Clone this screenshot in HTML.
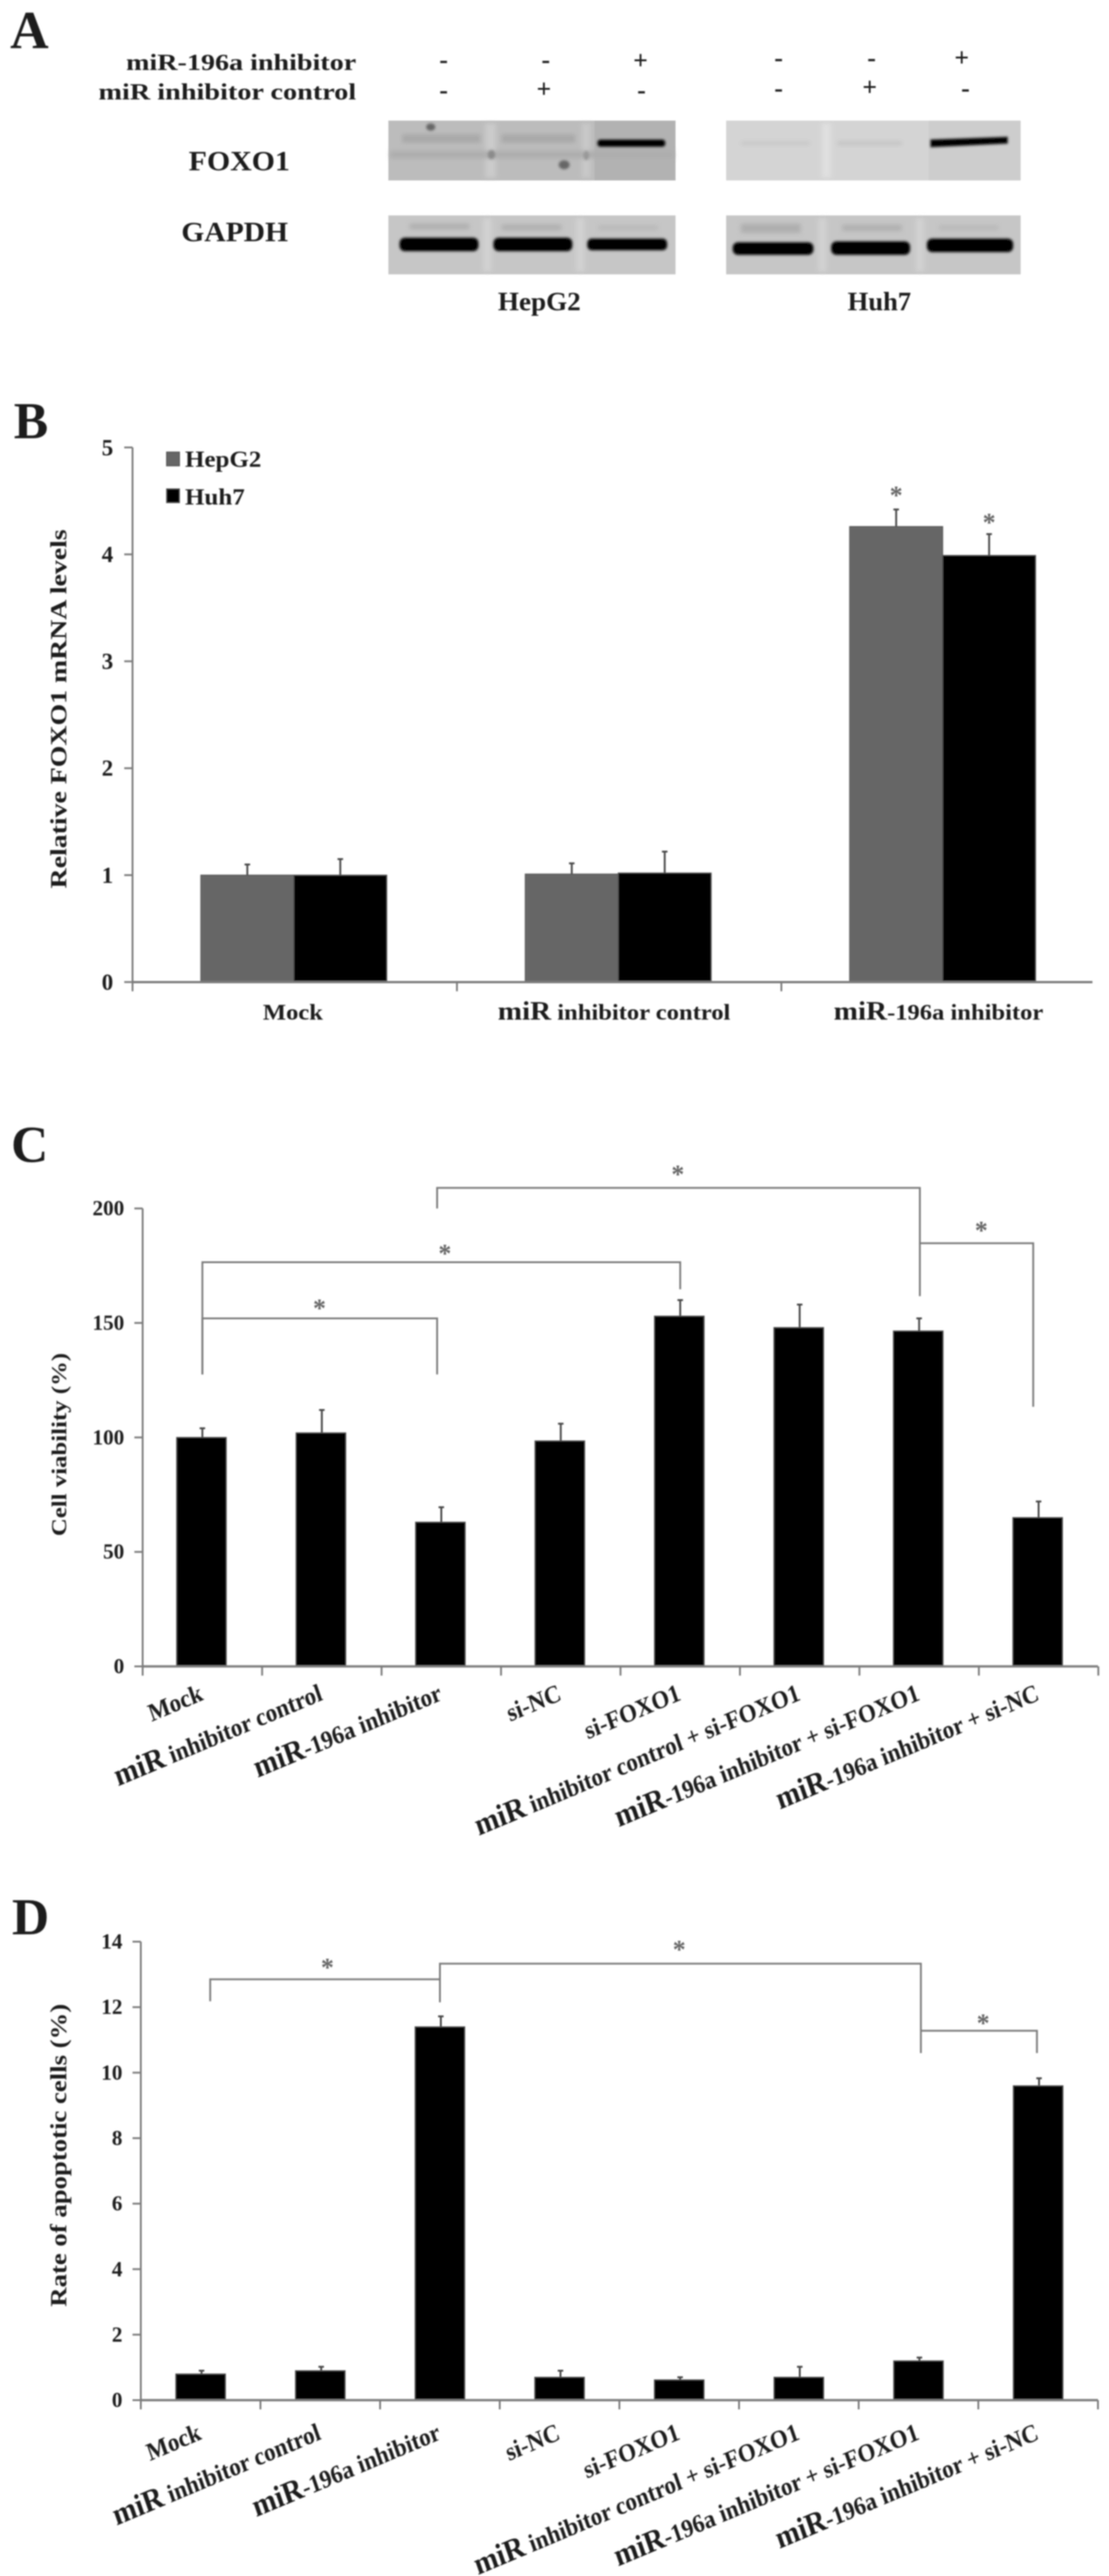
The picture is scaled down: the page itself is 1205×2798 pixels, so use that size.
<!DOCTYPE html>
<html lang="en">
<head>
<meta charset="utf-8">
<title>FOXO1 figure panels</title>
<style>
html,body{margin:0;padding:0;background:#fff;}
svg{display:block;}
text{font-family:"Liberation Serif",serif;font-weight:bold;fill:#1a1a1a;}
</style>
</head>
<body>
<svg id="figure" xmlns="http://www.w3.org/2000/svg" width="1205" height="2798" viewBox="0 0 1205 2798">
<defs>
<filter id="soft" x="-5%" y="-5%" width="110%" height="110%"><feGaussianBlur stdDeviation="0.7"/></filter>
<filter id="band" x="-20%" y="-150%" width="140%" height="400%"><feGaussianBlur stdDeviation="1.3"/></filter>
<filter id="faint" x="-30%" y="-400%" width="160%" height="900%"><feGaussianBlur stdDeviation="2.5"/></filter>
<filter id="lanegap" x="-100%" y="-10%" width="300%" height="120%"><feGaussianBlur stdDeviation="2.5"/></filter>
</defs>
<g id="panel-a" filter="url(#soft)">
<text x="11" y="52" font-size="58">A</text>
<text x="387" y="76" font-size="25" text-anchor="end" textLength="250" lengthAdjust="spacingAndGlyphs">miR-196a inhibitor</text>
<text x="387" y="108" font-size="25" text-anchor="end" textLength="280" lengthAdjust="spacingAndGlyphs">miR inhibitor control</text>
<g font-size="28" text-anchor="middle">
<text x="482" y="74">-</text>
<text x="593" y="74">-</text>
<text x="696" y="75">+</text>
<text x="846" y="72">-</text>
<text x="947" y="72">-</text>
<text x="1045" y="72">+</text>
<text x="482" y="107">-</text>
<text x="591" y="106">+</text>
<text x="697" y="107">-</text>
<text x="846" y="105">-</text>
<text x="945" y="104">+</text>
<text x="1049" y="105">-</text>
</g>
<text x="205" y="185" font-size="31" textLength="110" lengthAdjust="spacingAndGlyphs">FOXO1</text>
<text x="197" y="262" font-size="31" textLength="116" lengthAdjust="spacingAndGlyphs">GAPDH</text>
<text x="541" y="337" font-size="28" textLength="90" lengthAdjust="spacingAndGlyphs">HepG2</text>
<text x="921" y="337" font-size="28" textLength="69" lengthAdjust="spacingAndGlyphs">Huh7</text>

<g>
<rect x="422" y="131" width="312" height="65" fill="#bcbcbc"/>
<rect x="527" y="134" width="12" height="59" fill="#cbcbcb" filter="url(#lanegap)"/>
<rect x="632" y="134" width="10" height="59" fill="#c8c8c8" filter="url(#lanegap)"/>
<rect x="646" y="131" width="88" height="65" fill="#b2b2b2"/>
<rect x="437" y="146" width="85" height="9" fill="#a8a8a8" filter="url(#faint)"/>
<rect x="545" y="146" width="80" height="9" fill="#a8a8a8" filter="url(#faint)"/>
<rect x="424" y="164" width="308" height="8" fill="#adadad" filter="url(#faint)"/>
<ellipse cx="468" cy="138" rx="5" ry="4" fill="#666" filter="url(#band)"/>
<ellipse cx="534" cy="168" rx="4" ry="5" fill="#8a8a8a" filter="url(#band)"/>
<ellipse cx="613" cy="179" rx="6" ry="5" fill="#666" filter="url(#band)"/>
<ellipse cx="637" cy="169" rx="3" ry="5" fill="#979797" filter="url(#band)"/>
<rect x="649" y="151.5" width="74" height="8" rx="3.5" fill="#000" filter="url(#band)"/>
</g>
<g>
<rect x="789" y="131" width="320" height="65" fill="#d4d4d4"/>
<rect x="893" y="134" width="10" height="59" fill="#e0e0e0" filter="url(#lanegap)"/>
<rect x="1009" y="131" width="100" height="65" fill="#cdcdcd"/>
<rect x="805" y="154" width="75" height="3" fill="#c2c2c2" filter="url(#faint)"/>
<rect x="910" y="154" width="70" height="3" fill="#bcbcbc" filter="url(#faint)"/>
<path d="M1011 151.5 L1095 148.5 L1095 156 L1011 160 Z" fill="#000" filter="url(#band)"/>
</g>
<g>
<rect x="422" y="234" width="312" height="64" fill="#c6c6c6"/>
<rect x="525" y="237" width="9" height="58" fill="#d2d2d2" filter="url(#lanegap)"/>
<rect x="626" y="237" width="9" height="58" fill="#d2d2d2" filter="url(#lanegap)"/>
<rect x="445" y="243" width="65" height="6" fill="#aeaeae" filter="url(#faint)"/>
<rect x="545" y="244" width="65" height="6" fill="#aeaeae" filter="url(#faint)"/>
<rect x="650" y="245" width="65" height="5" fill="#b8b8b8" filter="url(#faint)"/>
<rect x="434" y="258" width="86" height="15" rx="6" fill="#000" filter="url(#band)"/>
<rect x="536" y="258" width="86" height="15" rx="6" fill="#000" filter="url(#band)"/>
<rect x="638" y="259" width="87" height="13" rx="5" fill="#000" filter="url(#band)"/>
</g>
<g>
<rect x="789" y="234" width="320" height="64" fill="#c6c6c6"/>
<rect x="889" y="237" width="9" height="58" fill="#d2d2d2" filter="url(#lanegap)"/>
<rect x="995" y="237" width="9" height="58" fill="#d2d2d2" filter="url(#lanegap)"/>
<rect x="805" y="243" width="65" height="10" fill="#aeaeae" filter="url(#faint)"/>
<rect x="915" y="244" width="65" height="7" fill="#b0b0b0" filter="url(#faint)"/>
<rect x="1020" y="245" width="65" height="5" fill="#b8b8b8" filter="url(#faint)"/>
<rect x="796" y="263" width="88" height="14" rx="6" fill="#000" filter="url(#band)"/>
<rect x="903" y="262" width="86" height="15" rx="6" fill="#000" filter="url(#band)"/>
<rect x="1007" y="259" width="94" height="15" rx="6" fill="#000" filter="url(#band)"/>
</g>
</g>
</svg>
<script>
// Panel B data
const bCategories = ['Mock', 'miR inhibitor control', 'miR-196a inhibitor'];
const bHepG2 = [1, 1.01, 4.26];
const bHuh7 = [1, 1.02, 3.99];
const bHepG2ErrTop = [1.1, 1.11, 4.42];
const bHuh7ErrTop = [1.15, 1.22, 4.19];
const bTicks = [0, 1, 2, 3, 4, 5];

// Panel C data
const multiCategories = ['Mock', 'miR inhibitor control', 'miR-196a inhibitor', 'si-NC', 'si-FOXO1', 'miR inhibitor control + si-FOXO1', 'miR-196a inhibitor + si-FOXO1', 'miR-196a inhibitor + si-NC'];
const cValues = [100, 102, 63, 98.5, 153, 148, 146.5, 65];
const cErrTop = [104, 112, 69.5, 106, 160, 158, 152, 72];
const cTicks = [0, 50, 100, 150, 200];

// Panel D data
const dValues = [0.8, 0.9, 11.4, 0.7, 0.62, 0.7, 1.2, 9.6];
const dErrTop = [0.9, 1.02, 11.72, 0.9, 0.7, 1.02, 1.3, 9.83];
const dTicks = [0, 2, 4, 6, 8, 10, 12, 14];

// Significance brackets, in category-index and value units: [startIdx, startVal, barVal, endIdx, endVal]
const cBrackets = [
  [1.965, 200, 209, 6.006, 161.7],
  [6.006, 184.8, 184.8, 6.955, 113.4],
  [0, 127.5, 176.5, 4, 164.7],
  [0, 127.5, 152, 1.965, 127.5]
];
const dBrackets = [
  [0.08, 12.18, 12.85, 2, 12.15],
  [2, 12.15, 13.33, 6.02, 10.6],
  [6.02, 11.28, 11.28, 6.99, 10.6]
];
// Star annotations: [categoryIdx, value]
const cStars = [[3.98, 215.5], [6.52, 191], [2.03, 181], [0.98, 157]];
const dStars = [[1.06, 13.25], [4, 13.8], [6.54, 11.55]];
const bStarsHepG2 = [4.42];
const bStarsHuh7 = [4.19];

const NS = 'http://www.w3.org/2000/svg';
const root = document.getElementById('figure');
const AXIS = '#7c7c7c';

function el(tag, attrs, parent) {
  const n = document.createElementNS(NS, tag);
  for (const k in attrs) n.setAttribute(k, attrs[k]);
  parent.appendChild(n);
  return n;
}
function linearY(vMax, yTop, yBottom) {
  return v => yBottom - (v / vMax) * (yBottom - yTop);
}
function bandX(x0, step) {
  return i => x0 + step * (i + 0.5);
}
function drawYAxis(g, ticks, y, x0, fs, labelRight) {
  const top = y(ticks[ticks.length - 1]), bottom = y(0);
  const line = el('line', {x1: x0, x2: x0, y1: top, y2: bottom + 1, stroke: AXIS, 'stroke-width': 2}, g);
  
  
  ticks.forEach(t => {
    const tk = el('line', {x1: x0 - 9, x2: x0, y1: y(t), y2: y(t), stroke: AXIS, 'stroke-width': 2}, g);
    
    
    const tx = el('text', {x: labelRight, y: y(t) + fs * 0.33, 'font-size': fs, 'text-anchor': 'end'}, g);
    tx.textContent = t;
    
    
  });
}
function drawXAxis(g, count, x0, step, xEnd, y0) {
  const line = el('line', {x1: x0 - 1, x2: xEnd, y1: y0, y2: y0, stroke: AXIS, 'stroke-width': 2.5}, g);
  
  
  for (let i = 0; i <= count; i++) {
    const x = x0 + step * i;
    if (x > xEnd + 1) continue;
    const tk = el('line', {x1: x, x2: x, y1: y0, y2: y0 + 10, stroke: AXIS, 'stroke-width': 2}, g);
    
    
  }
}
function drawBar(g, cx, w, top, bottom, fill) {
  const b = el('rect', {x: cx - w / 2, y: top, width: w, height: bottom - top, fill: fill, stroke: '#555', 'stroke-width': 1}, g);
  
  
}
function drawErr(g, cx, top, barTop) {
  const p = el('path', {d: `M${cx} ${barTop} V${top} M${cx - 3} ${top} H${cx + 3}`, stroke: '#444', 'stroke-width': 2, fill: 'none'}, g);
  
  
}
function drawStar(g, x, y) {
  const s = el('text', {x: x, y: y + 11, 'font-size': 28, 'text-anchor': 'middle', style: 'fill:#666'}, g);
  s.textContent = '*';
  
  
}
function drawBracket(g, b, x, y) {
  const p = el('path', {d: `M${x(b[0])} ${y(b[1])} V${y(b[2])} H${x(b[3])} V${y(b[4])}`, stroke: '#7c7c7c', 'stroke-width': 2, fill: 'none'}, g);
  
  
}
function yTitle(g, txt, x, cy, len, fs) {
  const t = el('text', {transform: `translate(${x},${cy}) rotate(-90)`, 'text-anchor': 'middle', 'font-size': fs, textLength: len, lengthAdjust: 'spacingAndGlyphs'}, g);
  t.textContent = txt;
  
  
}
function panelLetter(g, txt, x, y) {
  const t = el('text', {x: x, y: y, 'font-size': 56}, g);
  t.textContent = txt;
  
  
}
function addMixedLabel(t, label, big, small) {
  const m = label.match(/^(miR)(.*)$/);
  if (m) {
    const a = el('tspan', {'font-size': big}, t);
    a.textContent = m[1];
    const b = el('tspan', {'font-size': small}, t);
    b.textContent = m[2];
  } else {
    const b = el('tspan', {'font-size': small}, t);
    b.textContent = label;
  }
}
function slantedLabels(g, x, baseY) {
  multiCategories.forEach((c, i) => {
    const t = el('text', {transform: `translate(${x(i) + 2},${baseY}) scale(1,1.1) rotate(-21)`, 'text-anchor': 'end'}, g);
    addMixedLabel(t, c, 31, 25);
    
    
  });
}

// ---- Panel B ----
(function () {
  const g = el('g', {filter: 'url(#soft)'}, root);
  
  
  panelLetter(g, 'B', 15, 476);
  const y = linearY(5, 486, 1066.7);
  const x = bandX(143, 352.5);
  const w = 101;
  bCategories.forEach((c, i) => {
    drawErr(g, x(i) - w / 2, y(bHepG2ErrTop[i]), y(bHepG2[i]));
    drawErr(g, x(i) + w / 2, y(bHuh7ErrTop[i]), y(bHuh7[i]));
    drawBar(g, x(i) - w / 2, w, y(bHepG2[i]), y(0), '#666666');
    drawBar(g, x(i) + w / 2, w, y(bHuh7[i]), y(0), '#000000');
    const cx = x(i) - (i === 0 ? 1 : 4.5);
    const t = el('text', {transform: `translate(${cx},${y(0) + 41}) scale(1.09,1)`, 'text-anchor': 'middle'}, g);
    addMixedLabel(t, c, 29, 24.5);
    
    
  });
  drawYAxis(g, bTicks, y, 144, 25, 123);
  drawXAxis(g, 3, 144, 352.5, 1187, y(0));
  bStarsHepG2.forEach(v => drawStar(g, x(2) - w / 2, y(v) - 17));
  bStarsHuh7.forEach(v => drawStar(g, x(2) + w / 2, y(v) - 14));
  yTitle(g, 'Relative FOXO1 mRNA levels', 72, 770, 390, 25);
  const s1 = el('rect', {x: 181, y: 491, width: 14, height: 15, fill: '#666', stroke: '#555'}, g);
  
  
  const l1 = el('text', {x: 201, y: 507, 'font-size': 25, textLength: 83, lengthAdjust: 'spacingAndGlyphs'}, g);
  l1.textContent = 'HepG2';
  
  
  const s2 = el('rect', {x: 181, y: 531, width: 14, height: 15, fill: '#000', stroke: '#555'}, g);
  
  
  const l2 = el('text', {x: 201, y: 548, 'font-size': 25, textLength: 65, lengthAdjust: 'spacingAndGlyphs'}, g);
  l2.textContent = 'Huh7';
  
  
})();

// ---- Panel C ----
(function () {
  const g = el('g', {filter: 'url(#soft)'}, root);
  
  
  panelLetter(g, 'C', 12, 1262);
  const y = linearY(200, 1312.6, 1810);
  const x = bandX(155, 129.8);
  cValues.forEach((v, i) => {
    drawErr(g, x(i), y(cErrTop[i]), y(v));
    drawBar(g, x(i) - 1, 54, y(v), y(0), '#000');
  });
  drawYAxis(g, cTicks, y, 155, 23, 135);
  drawXAxis(g, 8, 155, 129.8, 1193, y(0));
  cBrackets.forEach(b => drawBracket(g, b, x, y));
  cStars.forEach(s => drawStar(g, x(s[0]), y(s[1])));
  yTitle(g, 'Cell viability  (%)', 72, 1569, 199, 23);
  slantedLabels(g, x, 1846);
})();

// ---- Panel D ----
(function () {
  const g = el('g', {filter: 'url(#soft)'}, root);
  
  
  panelLetter(g, 'D', 13, 2101);
  const y = linearY(14, 2109, 2607);
  const x = bandX(153, 130);
  dValues.forEach((v, i) => {
    drawErr(g, x(i) + 1, y(dErrTop[i]), y(v));
    drawBar(g, x(i), 54, y(v), y(0), '#000');
  });
  drawYAxis(g, dTicks, y, 153, 23, 133);
  drawXAxis(g, 8, 153, 130, 1193, y(0));
  dBrackets.forEach(b => drawBracket(g, b, x, y));
  dStars.forEach(s => drawStar(g, x(s[0]), y(s[1])));
  yTitle(g, 'Rate of apoptotic cells (%)', 72, 2341, 329, 25);
  slantedLabels(g, x, 2649);
})();
</script>
</body>
</html>
